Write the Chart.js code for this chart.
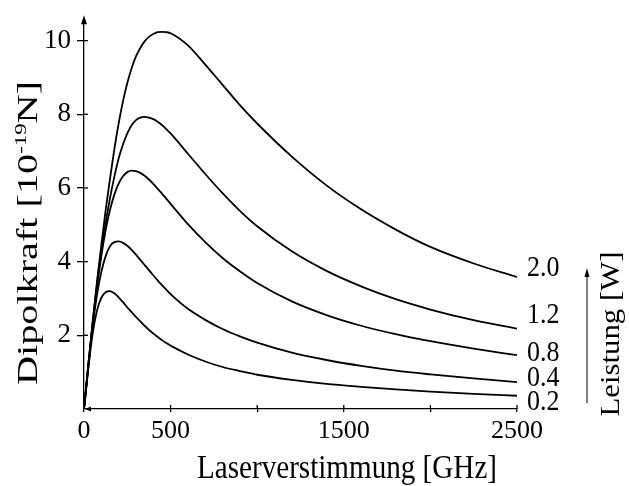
<!DOCTYPE html>
<html>
<head>
<meta charset="utf-8">
<script src="https://cdn.jsdelivr.net/npm/chart.js@4"></script>
<style>
  html, body { margin: 0; padding: 0; background: #fff; }
  #wrap { width: 629px; height: 486px; }
</style>
</head>
<body>
<div id="wrap"><canvas id="forceChart" width="629" height="486"></canvas></div>
<script>
// laser detuning in GHz
const detuning = [0, 25, 50, 75, 100, 125, 150, 175, 200, 225, 250, 275, 300, 325, 350, 375, 400, 425, 450, 475, 500,
  600, 700, 800, 900, 1000, 1200, 1400, 1600, 1800, 2000, 2250, 2500];

// dipole force [1e-19 N] for each laser power
const force20 = [0, 1.2, 2.35, 3.45, 4.45, 5.4, 6.25, 7.05, 7.75, 8.35, 8.85, 9.25, 9.57, 9.8, 9.98, 10.1, 10.18, 10.23, 10.24, 10.23, 10.2,
  9.87, 9.35, 8.8, 8.25, 7.75, 6.85, 6.07, 5.42, 4.87, 4.4, 3.95, 3.58];
const force12 = [0, 1.2, 2.35, 3.4, 4.3, 5.05, 5.72, 6.3, 6.8, 7.18, 7.48, 7.7, 7.84, 7.91, 7.93, 7.91, 7.87, 7.8, 7.71, 7.6, 7.48,
  6.93, 6.38, 5.86, 5.38, 4.96, 4.28, 3.75, 3.33, 2.98, 2.7, 2.41, 2.18];
const force08 = [0, 1.2, 2.3, 3.3, 4.15, 4.85, 5.4, 5.82, 6.12, 6.32, 6.43, 6.47, 6.46, 6.41, 6.33, 6.23, 6.11, 5.98, 5.85, 5.71, 5.57,
  5.02, 4.53, 4.1, 3.74, 3.42, 2.92, 2.55, 2.26, 2.03, 1.84, 1.64, 1.46];
const force04 = [0, 1.15, 2.25, 3.1, 3.72, 4.15, 4.42, 4.53, 4.55, 4.51, 4.43, 4.32, 4.19, 4.05, 3.91, 3.77, 3.63, 3.49, 3.36, 3.24, 3.12,
  2.72, 2.42, 2.17, 1.97, 1.8, 1.53, 1.33, 1.17, 1.04, 0.94, 0.83, 0.73];
const force02 = [0, 1.1, 2.05, 2.67, 3.02, 3.17, 3.2, 3.14, 3.03, 2.9, 2.76, 2.63, 2.5, 2.38, 2.26, 2.15, 2.05, 1.96, 1.87, 1.79, 1.72,
  1.48, 1.29, 1.14, 1.03, 0.93, 0.79, 0.68, 0.6, 0.53, 0.47, 0.41, 0.36];

const powerLabels = ['2.0', '1.2', '0.8', '0.4', '0.2'];
const yTicks = [2, 4, 6, 8, 10];
const xTicks = [0, 500, 1000, 1500, 2000, 2500];
const xLabelled = [0, 500, 1500, 2500];

const serif = '"Liberation Serif", "Times New Roman", serif';
const allForces = [force20, force12, force08, force04, force02];

// draw text runs, optionally rotated and stretched
function drawRuns(ctx, runs, x, y, angle, sx, sy) {
  ctx.save();
  let total = 0;
  runs.forEach(r => {
    ctx.font = r.size + 'px ' + serif;
    r.w = ctx.measureText(r.t).width;
    total += r.w;
  });
  ctx.translate(x, y);
  ctx.rotate(angle);
  ctx.scale(sx, sy);
  ctx.fillStyle = '#000';
  ctx.textBaseline = 'alphabetic';
  ctx.textAlign = 'left';
  let cx = -total / 2;
  runs.forEach(r => {
    ctx.font = r.size + 'px ' + serif;
    ctx.fillText(r.t, cx, -(r.rise || 0));
    cx += r.w;
  });
  ctx.restore();
  return total;
}

function runsWidth(ctx, runs) {
  let total = 0;
  ctx.save();
  runs.forEach(r => {
    ctx.font = r.size + 'px ' + serif;
    total += ctx.measureText(r.t).width;
  });
  ctx.restore();
  return total;
}

const decorations = {
  id: 'decorations',
  afterDraw(chart) {
    const ctx = chart.ctx;
    const xs = chart.scales.x, ys = chart.scales.y;
    const x0 = xs.getPixelForValue(0), y0 = ys.getPixelForValue(0);
    ctx.save();
    ctx.strokeStyle = '#000';
    ctx.fillStyle = '#000';
    ctx.lineWidth = 1.3;
    // y axis extension + arrow
    ctx.beginPath();
    ctx.moveTo(x0, chart.chartArea.top);
    ctx.lineTo(x0, chart.chartArea.top - 4);
    ctx.stroke();
    ctx.beginPath();
    ctx.moveTo(x0, chart.chartArea.top - 7);
    ctx.lineTo(x0 - 3, chart.chartArea.top + 2);
    ctx.lineTo(x0 + 3, chart.chartArea.top + 2);
    ctx.closePath();
    ctx.fill();
    // small arrowhead at origin on x axis
    ctx.beginPath();
    ctx.moveTo(x0 + 1, y0);
    ctx.lineTo(x0 + 7, y0 - 2.5);
    ctx.lineTo(x0 + 7, y0 + 2.5);
    ctx.closePath();
    ctx.fill();
    // tick stubs inside plot
    yTicks.forEach(v => {
      const p = ys.getPixelForValue(v);
      ctx.beginPath(); ctx.moveTo(x0, p); ctx.lineTo(x0 + 4, p); ctx.stroke();
    });
    xTicks.forEach(v => {
      const p = xs.getPixelForValue(v);
      ctx.beginPath(); ctx.moveTo(p, y0); ctx.lineTo(p, y0 - 4); ctx.stroke();
    });
    ctx.restore();

    // power labels at the right end
    const labelVals = [3.82, 2.54, 1.52, 0.83, 0.19];
    const xr = xs.getPixelForValue(2500) + 10;
    powerLabels.forEach((t, i) => {
      const py = ys.getPixelForValue(labelVals[i]);
      ctx.save();
      ctx.font = '26px ' + serif;
      ctx.fillStyle = '#000';
      ctx.textBaseline = 'middle';
      ctx.translate(xr, py);
      ctx.scale(1, 1.12);
      ctx.fillText(t, 0, 0);
      ctx.restore();
    });

    // Leistung arrow
    ctx.save();
    ctx.strokeStyle = '#000';
    ctx.fillStyle = '#000';
    ctx.lineWidth = 1;
    ctx.beginPath(); ctx.moveTo(587, 403); ctx.lineTo(587, 276); ctx.stroke();
    ctx.beginPath();
    ctx.moveTo(587, 268); ctx.lineTo(584.5, 277); ctx.lineTo(589.5, 277);
    ctx.closePath(); ctx.fill();
    ctx.restore();

    // Leistung title (rotated)
    let runs = [{ t: 'Leistung [W]', size: 28 }];
    drawRuns(ctx, runs, 619, 334, -Math.PI / 2, 165 / runsWidth(ctx, runs), 1);

    // x title
    runs = [{ t: 'Laserverstimmung [GHz]', size: 29 }];
    drawRuns(ctx, runs, 347, 478, 0, 300 / runsWidth(ctx, runs), 1.18);

    // y title
    runs = [
      { t: 'Dipolkraft [10', size: 30 },
      { t: '-19', size: 17, rise: 11 },
      { t: 'N]', size: 30 }
    ];
    drawRuns(ctx, runs, 37, 233, -Math.PI / 2, 304 / runsWidth(ctx, runs), 1);
  }
};

new Chart(document.getElementById('forceChart'), {
  type: 'line',
  data: {
    datasets: allForces.map((arr, i) => ({
      label: powerLabels[i] + ' W',
      data: detuning.map((d, k) => ({ x: d, y: arr[k] })),
      borderColor: '#000',
      borderWidth: 1.8,
      pointRadius: 0,
      fill: false,
      cubicInterpolationMode: 'monotone'
    }))
  },
  options: {
    responsive: false,
    animation: false,
    events: [],
    layout: { padding: { left: 0, right: 112, top: 16, bottom: 0 } },
    plugins: { legend: { display: false }, tooltip: { enabled: false } },
    scales: {
      x: {
        type: 'linear',
        min: 0,
        max: 2500,
        afterBuildTicks: s => { s.ticks = xTicks.map(v => ({ value: v })); },
        afterFit: s => { s.height = 77; },
        ticks: {
          color: '#000',
          font: { family: serif, size: 26 },
          padding: 4,
          maxRotation: 0,
          autoSkip: false,
          callback: v => xLabelled.includes(v) ? String(v) : ''
        },
        grid: { display: true, drawOnChartArea: false, drawTicks: true, tickLength: 3, color: '#000', lineWidth: 1.3 },
        border: { display: true, color: '#000', width: 1.3 }
      },
      y: {
        type: 'linear',
        min: 0,
        max: 10.5,
        afterBuildTicks: s => { s.ticks = yTicks.map(v => ({ value: v })); },
        afterFit: s => { s.width = 84; },
        ticks: {
          color: '#000',
          font: { family: serif, size: 27 },
          padding: 6
        },
        grid: { display: true, drawOnChartArea: false, drawTicks: true, tickLength: 7, color: '#000', lineWidth: 1.3 },
        border: { display: true, color: '#000', width: 1.3 }
      }
    }
  },
  plugins: [decorations]
});
</script>
</body>
</html>
